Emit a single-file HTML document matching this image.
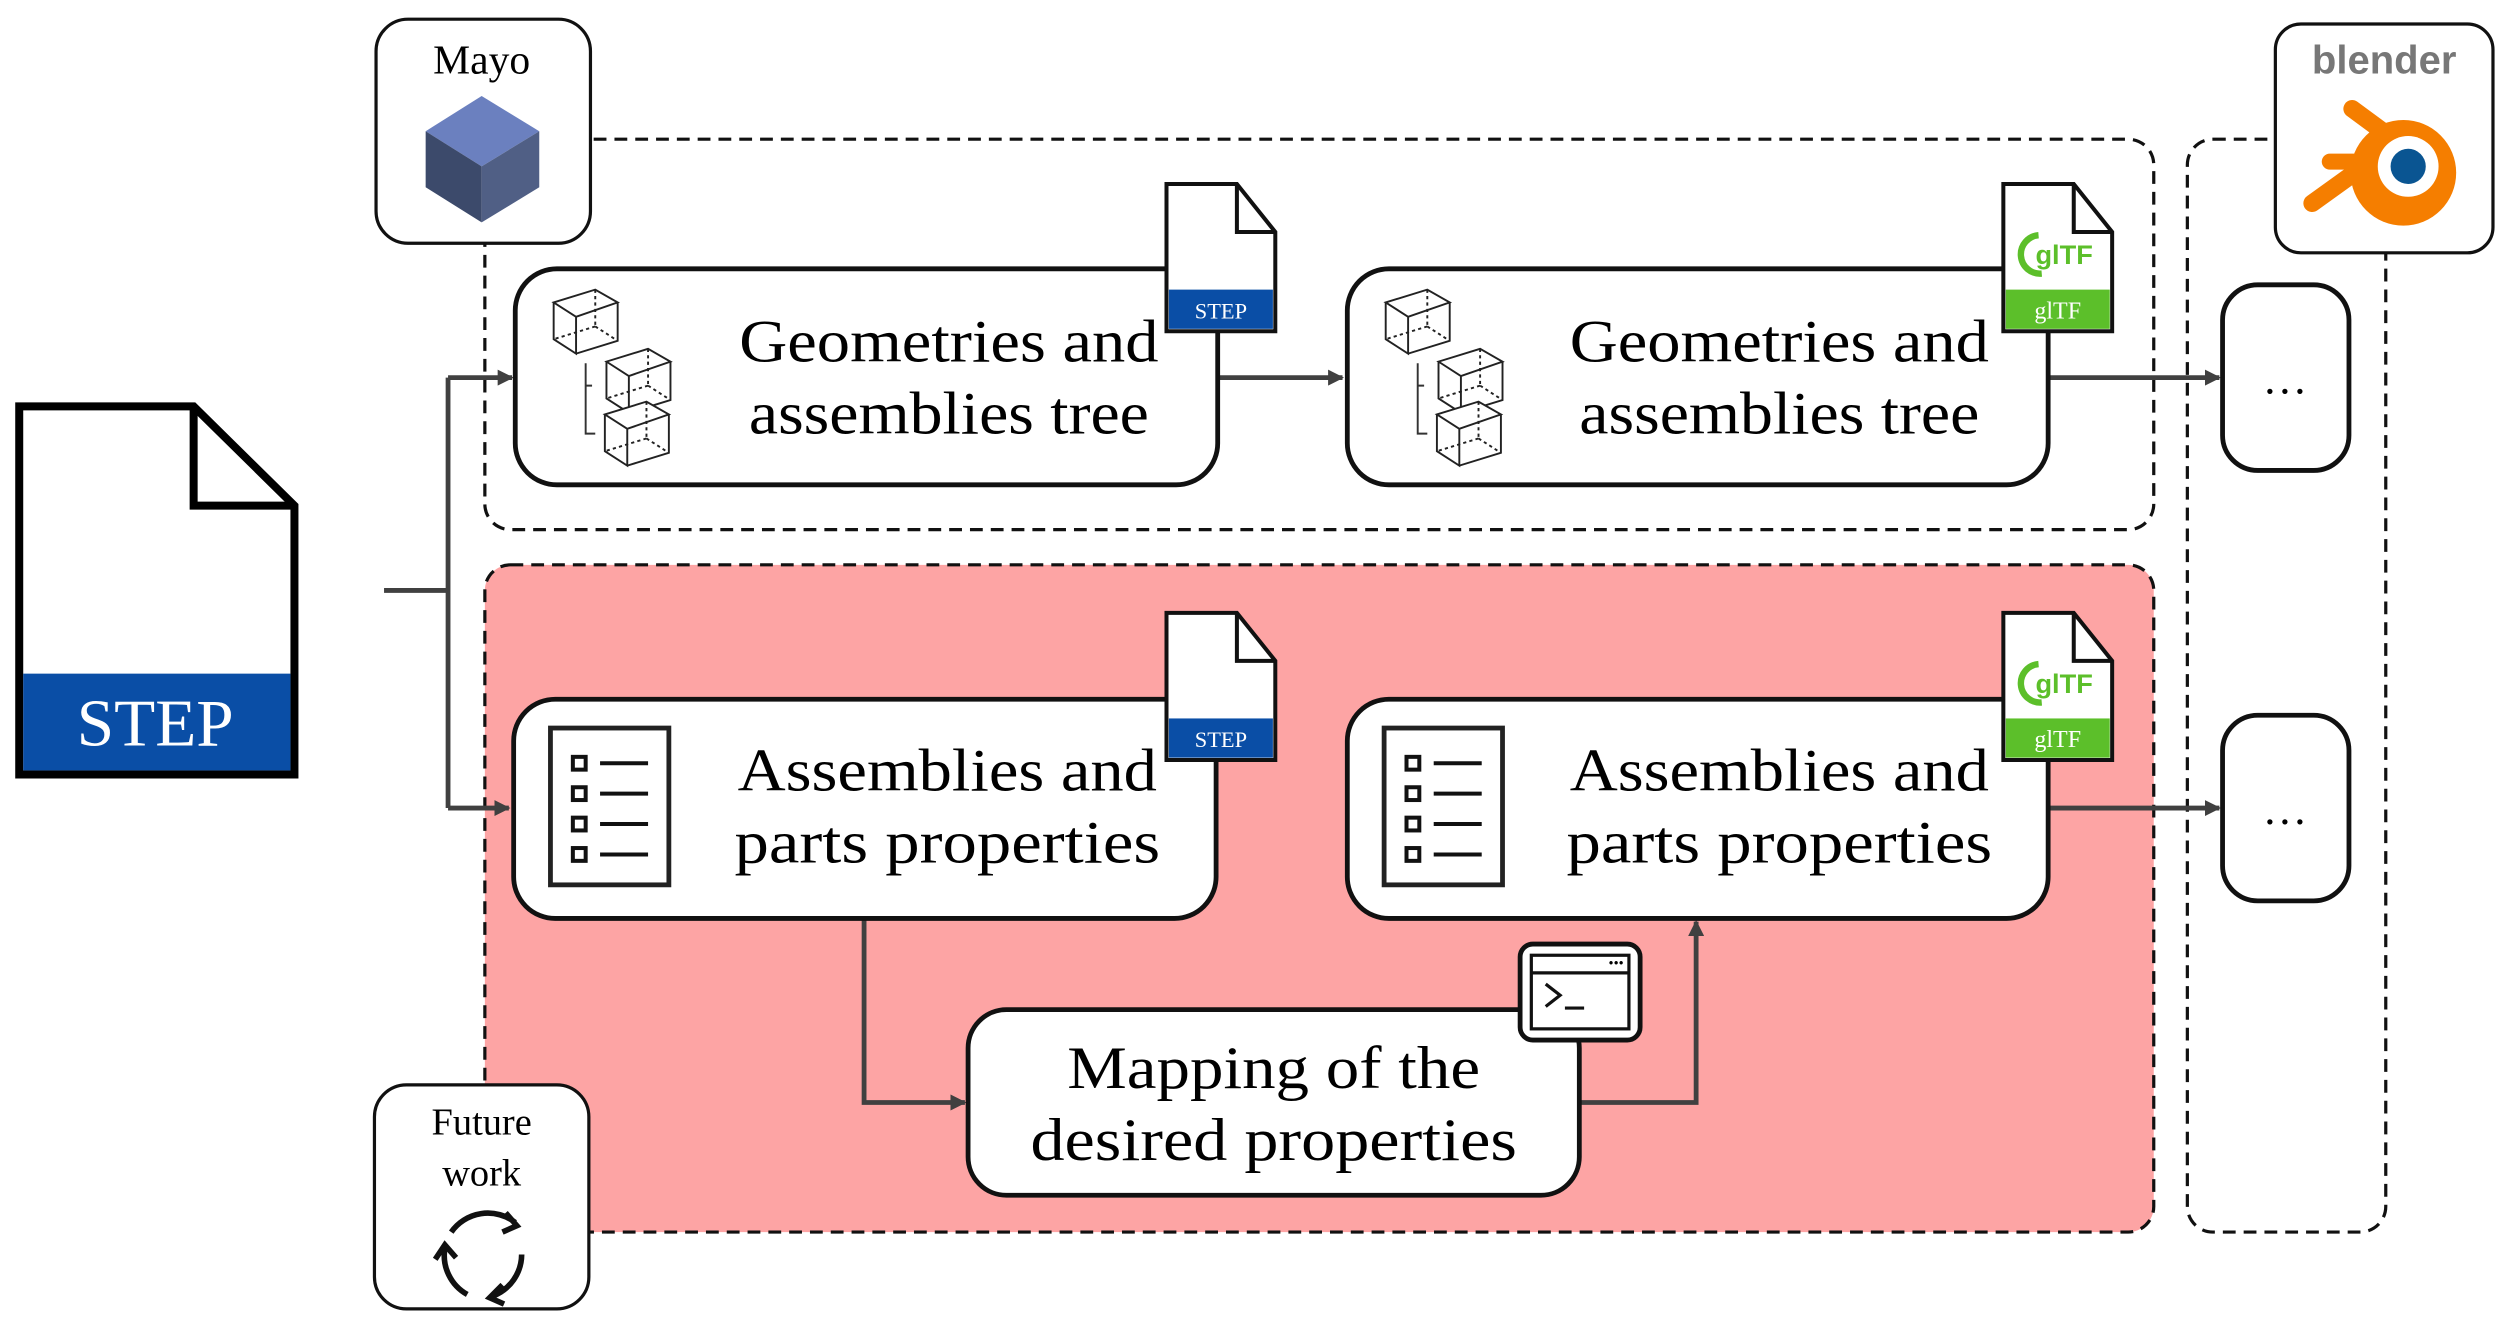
<!DOCTYPE html>
<html><head><meta charset="utf-8"><style>
html,body{margin:0;padding:0;background:#fff;}
svg{display:block;}
text{font-family:"Liberation Serif",serif;fill:#000;}
</style></head><body>
<svg width="2509" height="1342" viewBox="0 0 1568 838.7" xmlns="http://www.w3.org/2000/svg">
<defs>
<marker id="ar" markerWidth="10" markerHeight="10" refX="9" refY="5" orient="auto" markerUnits="userSpaceOnUse">
<path d="M0,0 L10,5 L0,10 Z" fill="#404040"/></marker>
<g id="cube" fill="none" stroke="#222" stroke-width="1.2">
<path d="M0,8 L26,0 L40,8 L14,17 Z M0,8 L0,31 L14,40 L14,17 M14,40 L40,32 L40,8" fill="#fff"/>
<path d="M26,0 L26,23 M26,23 L0,31 M26,23 L40,32" stroke-dasharray="2,2"/>
</g>
<g id="cubes">
<use href="#cube" x="0" y="0"/>
<use href="#cube" x="33" y="37"/>
<use href="#cube" x="32" y="70"/>
<path d="M20,46 L20,90 L26,90 M20,60 L24,60" fill="none" stroke="#333" stroke-width="1.2"/>
</g>
<g id="list">
<rect x="0" y="0" width="74" height="98" fill="#fff" stroke="#222" stroke-width="3"/>
<g fill="none" stroke="#111" stroke-width="2.5">
<rect x="14" y="18" width="8" height="8"/><rect x="14" y="37" width="8" height="8"/>
<rect x="14" y="56" width="8" height="8"/><rect x="14" y="75" width="8" height="8"/>
<path d="M31,22 H61 M31,41 H61 M31,60 H61 M31,79 H61"/>
</g></g>
<g id="stepf">
<path d="M0,0 H44 L68,30 V92 H0 Z" fill="#fff" stroke="#111" stroke-width="2.5"/>
<path d="M44,0 V30 H68" fill="none" stroke="#111" stroke-width="2.5"/>
<rect x="1.5" y="66" width="65" height="24.5" fill="#0a4ea6"/>
<text x="34" y="84" font-size="14" text-anchor="middle" style="fill:#fff">STEP</text>
</g>
<g id="gltff">
<path d="M0,0 H44 L68,30 V92 H0 Z" fill="#fff" stroke="#111" stroke-width="2.5"/>
<path d="M44,0 V30 H68" fill="none" stroke="#111" stroke-width="2.5"/>
<rect x="1.5" y="66" width="65" height="24.5" fill="#5cbf2a"/>
<text x="34" y="84" font-size="15" text-anchor="middle" style="fill:#fff">glTF</text>
<path d="M22,32 A12,12 0 1 0 24,56" fill="none" stroke="#5cbf2a" stroke-width="4"/>
<text x="38" y="50" font-size="17" font-weight="bold" text-anchor="middle" style="fill:#5cbf2a;font-family:'Liberation Sans',sans-serif">glTF</text>
</g>
</defs>

<rect x="303" y="87" width="1043" height="244" rx="16" fill="none" stroke="#111" stroke-width="2" stroke-dasharray="8,5"/>
<rect x="303" y="353" width="1043" height="417" rx="16" fill="#fda4a4" stroke="#111" stroke-width="2" stroke-dasharray="8,5"/>
<rect x="1367" y="87" width="124" height="683" rx="16" fill="none" stroke="#111" stroke-width="2" stroke-dasharray="8,5"/>

<path d="M12,254 H121 L184,316 V484 H12 Z" fill="#fff" stroke="#000" stroke-width="5"/>
<path d="M121,254 V316 H184" fill="none" stroke="#000" stroke-width="5"/>
<rect x="14.5" y="421" width="167" height="60.5" fill="#0a4ea6"/>
<text x="97" y="466" font-size="42" text-anchor="middle" style="fill:#fff">STEP</text>

<g stroke="#404040" stroke-width="3" fill="none">
<path d="M240,369 H280 M280,236 V505"/>
<path d="M280,236 H320" marker-end="url(#ar)"/>
<path d="M280,505 H318" marker-end="url(#ar)"/>
<path d="M761,236 H839" marker-end="url(#ar)"/>
<path d="M1280,236 H1387" marker-end="url(#ar)"/>
<path d="M1280,505 H1387" marker-end="url(#ar)"/>
<path d="M540,574 V689 H603" marker-end="url(#ar)"/>
<path d="M987,689 H1060 V576" marker-end="url(#ar)"/>
</g>

<rect x="235" y="12" width="134" height="140" rx="20" fill="#fff" stroke="#111" stroke-width="2"/>
<text x="301" y="46" font-size="26" text-anchor="middle">Mayo</text>
<path d="M301,60 L337,82 L301,104 L266,82 Z" fill="#6b80bf"/>
<path d="M266,82 L301,104 L301,139 L266,117 Z" fill="#3c4a6b"/>
<path d="M337,82 L301,104 L301,139 L337,117 Z" fill="#505f85"/>

<rect x="1422" y="15" width="136" height="143" rx="16" fill="#fff" stroke="#111" stroke-width="2"/>
<text x="1490" y="46" font-size="25" font-weight="bold" text-anchor="middle" style="fill:#777;font-family:'Liberation Sans',sans-serif">blender</text>
<path d="M1470,68 L1508,96" stroke="#f57e00" stroke-width="11" stroke-linecap="round"/>
<path d="M1456,101 H1490" stroke="#f57e00" stroke-width="10" stroke-linecap="round"/>
<path d="M1445,127 L1484,99" stroke="#f57e00" stroke-width="11" stroke-linecap="round"/>
<circle cx="1502" cy="108" r="33" fill="#f57e00"/>
<circle cx="1505" cy="104" r="19" fill="#fff"/>
<circle cx="1505" cy="104" r="11" fill="#0a5592"/>

<rect x="234" y="678" width="134" height="140" rx="20" fill="#fff" stroke="#111" stroke-width="2"/>
<text x="301" y="709" font-size="24" text-anchor="middle">Future</text>
<text x="301" y="741" font-size="24" text-anchor="middle">work</text>
<g fill="none" stroke="#111" stroke-width="3.5">
<path d="M282,770 A28,28 0 0 1 322,764"/><path d="M316,758 L323,766 L314,770"/>
<path d="M326,784 A28,28 0 0 1 308,810"/><path d="M314,803 L306,811 L315,815"/>
<path d="M292,809 A28,28 0 0 1 278,780"/><path d="M272,787 L278,778 L285,786"/>
</g>

<rect x="322" y="168" width="439" height="135" rx="26" fill="#fff" stroke="#111" stroke-width="3"/>
<use href="#cubes" x="346" y="181"/>
<text x="593" y="226" font-size="38" text-anchor="middle" textLength="262" lengthAdjust="spacingAndGlyphs">Geometries and</text>
<text x="593" y="271" font-size="38" text-anchor="middle" textLength="250" lengthAdjust="spacingAndGlyphs">assemblies tree</text>
<use href="#stepf" x="729" y="115"/>

<rect x="842" y="168" width="438" height="135" rx="26" fill="#fff" stroke="#111" stroke-width="3"/>
<use href="#cubes" x="866" y="181"/>
<text x="1112" y="226" font-size="38" text-anchor="middle" textLength="262" lengthAdjust="spacingAndGlyphs">Geometries and</text>
<text x="1112" y="271" font-size="38" text-anchor="middle" textLength="250" lengthAdjust="spacingAndGlyphs">assemblies tree</text>
<use href="#gltff" x="1252" y="115"/>

<rect x="1389" y="178" width="79" height="116" rx="22" fill="#fff" stroke="#111" stroke-width="3"/>
<text x="1428" y="246" font-size="28" text-anchor="middle">…</text>
<rect x="1389" y="447" width="79" height="116" rx="22" fill="#fff" stroke="#111" stroke-width="3"/>
<text x="1428" y="515" font-size="28" text-anchor="middle">…</text>

<rect x="321" y="437" width="439" height="137" rx="26" fill="#fff" stroke="#111" stroke-width="3"/>
<use href="#list" x="344" y="455"/>
<text x="592" y="494" font-size="38" text-anchor="middle" textLength="262" lengthAdjust="spacingAndGlyphs">Assemblies and</text>
<text x="592" y="539" font-size="38" text-anchor="middle" textLength="266" lengthAdjust="spacingAndGlyphs">parts properties</text>
<use href="#stepf" x="729" y="383"/>

<rect x="842" y="437" width="438" height="137" rx="26" fill="#fff" stroke="#111" stroke-width="3"/>
<use href="#list" x="865" y="455"/>
<text x="1112" y="494" font-size="38" text-anchor="middle" textLength="262" lengthAdjust="spacingAndGlyphs">Assemblies and</text>
<text x="1112" y="539" font-size="38" text-anchor="middle" textLength="266" lengthAdjust="spacingAndGlyphs">parts properties</text>
<use href="#gltff" x="1252" y="383"/>

<rect x="605" y="631" width="382" height="116" rx="24" fill="#fff" stroke="#111" stroke-width="3"/>
<text x="796" y="680" font-size="38" text-anchor="middle" textLength="258" lengthAdjust="spacingAndGlyphs">Mapping of the</text>
<text x="796" y="725" font-size="38" text-anchor="middle" textLength="304" lengthAdjust="spacingAndGlyphs">desired properties</text>
<rect x="950" y="590" width="75" height="60" rx="8" fill="#fff" stroke="#111" stroke-width="3"/>
<rect x="957" y="597" width="61" height="46" fill="none" stroke="#111" stroke-width="2"/>
<path d="M957,608 H1018" stroke="#111" stroke-width="2"/>
<text x="1010" y="605" font-size="9" text-anchor="middle">•••</text>
<path d="M966,615 L975,622 L966,629 M978,630 H990" fill="none" stroke="#111" stroke-width="2"/>
</svg>
</body></html>
